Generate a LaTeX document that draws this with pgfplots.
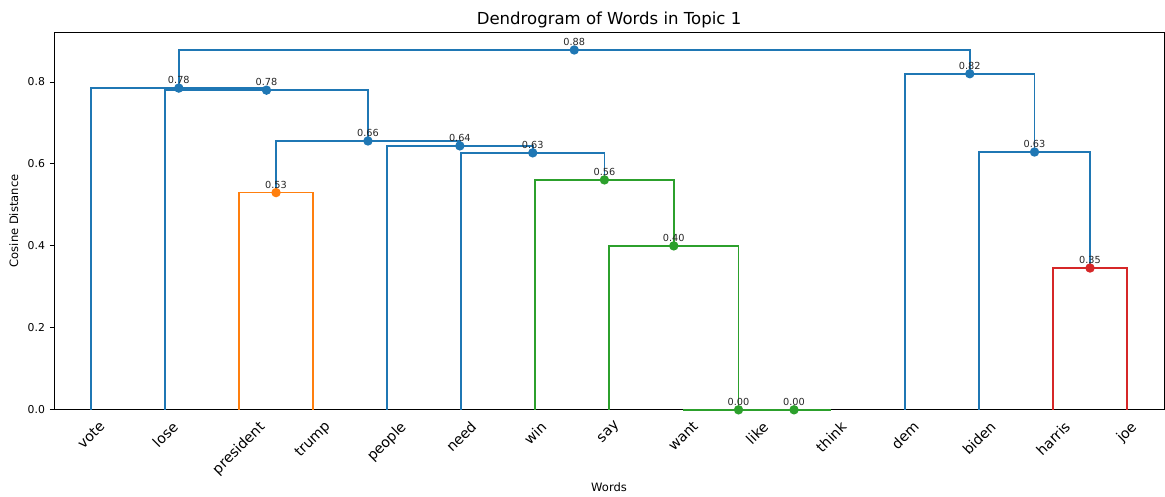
\documentclass[border=0pt]{standalone}
\usepackage{fontspec}
\setmainfont{DejaVu Sans}
\usepackage{pgfplots}
\pgfplotsset{compat=1.18}

\definecolor{cblue}{HTML}{1F77B4}
\definecolor{corange}{HTML}{FF7F0E}
\definecolor{cgreen}{HTML}{2CA02C}
\definecolor{cred}{HTML}{D62728}

\begin{document}
\begin{tikzpicture}
\begin{axis}[
  name=ax,
  scale only axis,
  width=799pt, height=272pt,
  xmin=0, xmax=150, ymin=0, ymax=0.922,
  axis line style={line width=0.6pt},
  xtick={5,15,...,145},
  xticklabels={\rotatebox{45}{vote},\rotatebox{45}{lose},\rotatebox{45}{president},\rotatebox{45}{trump},
    \rotatebox{45}{people},\rotatebox{45}{need},\rotatebox{45}{win},\rotatebox{45}{say},
    \rotatebox{45}{want},\rotatebox{45}{like},\rotatebox{45}{think},\rotatebox{45}{dem},
    \rotatebox{45}{biden},\rotatebox{45}{harris},\rotatebox{45}{joe}},
  xticklabel style={anchor=north, font=\fontsize{10.2}{12}\selectfont, yshift=-1pt},
  x tick style={draw=none},
  ytick={0,0.2,0.4,0.6,0.8},
  yticklabel style={font=\fontsize{7.8}{9}\selectfont,
    /pgf/number format/fixed, /pgf/number format/fixed zerofill, /pgf/number format/precision=1},
  /pgf/number format/assume math mode=true,
  tick align=outside,
  major tick length=3pt,
  y tick style={black, line width=0.6pt},
  xtick pos=bottom, ytick pos=left,
  title={Dendrogram of Words in Topic 1},
  title style={font=\fontsize{11.9}{13}\selectfont, yshift=-6.5pt},
  xlabel={Words}, ylabel={Cosine Distance},
  label style={font=\fontsize{8.3}{10}\selectfont},
  xlabel style={yshift=3pt},
  every axis plot/.append style={line width=1.1pt},
  clip=false,
]
% links: each as a U shape, x at leaf positions 5,15,...,145
\addplot[cgreen, no markers] coordinates {(95,0) (95,0) (105,0) (105,0)};
\addplot[cgreen, no markers] coordinates {(85,0) (85,0) (100,0) (100,0)};
\addplot[cgreen, no markers] coordinates {(75,0) (75,0.400) (92.5,0.400) (92.5,0)};
\addplot[cgreen, no markers] coordinates {(65,0) (65,0.561) (83.75,0.561) (83.75,0.400)};
\addplot[cblue, no markers] coordinates {(55,0) (55,0.627) (74.375,0.627) (74.375,0.561)};
\addplot[cblue, no markers] coordinates {(45,0) (45,0.644) (64.69,0.644) (64.69,0.627)};
\addplot[corange, no markers] coordinates {(25,0) (25,0.530) (35,0.530) (35,0)};
\addplot[cblue, no markers] coordinates {(30,0.530) (30,0.656) (54.84,0.656) (54.84,0.644)};
\addplot[cblue, no markers] coordinates {(15,0) (15,0.780) (42.42,0.780) (42.42,0.656)};
\addplot[cblue, no markers] coordinates {(5,0) (5,0.785) (28.71,0.785) (28.71,0.780)};
\addplot[cred, no markers] coordinates {(135,0) (135,0.346) (145,0.346) (145,0)};
\addplot[cblue, no markers] coordinates {(125,0) (125,0.629) (140,0.629) (140,0.346)};
\addplot[cblue, no markers] coordinates {(115,0) (115,0.820) (132.5,0.820) (132.5,0.629)};
\addplot[cblue, no markers] coordinates {(16.86,0.785) (16.86,0.878) (123.75,0.878) (123.75,0.820)};

% merge points with their distances
\pgfplotsset{dots/.style={only marks, mark=*, mark size=2.8pt,
  point meta=explicit symbolic, nodes near coords,
  every node near coord/.style={anchor=south, yshift=2.5pt, inner sep=0pt,
    text=black!85, font=\fontsize{7}{8}\selectfont}}}
\addplot[dots, cblue, mark options={fill=cblue, draw=cblue}] coordinates {
  (16.86,0.785) [0.78] (28.71,0.780) [0.78] (42.42,0.656) [0.66]
  (54.84,0.644) [0.64] (64.69,0.627) [0.63] (132.5,0.629) [0.63]
  (123.75,0.820) [0.82] (70.3,0.878) [0.88]};
\addplot[dots, corange, mark options={fill=corange, draw=corange}] coordinates {(30,0.530) [0.53]};
\addplot[dots, cgreen, mark options={fill=cgreen, draw=cgreen}] coordinates {
  (74.375,0.561) [0.56] (83.75,0.400) [0.40] (92.5,0) [0.00] (100,0) [0.00]};
\addplot[dots, cred, mark options={fill=cred, draw=cred}] coordinates {(140,0.346) [0.35]};
\end{axis}
\path ([xshift=-38.9pt, yshift=-61.2pt]ax.south west) rectangle ([xshift=0.7pt, yshift=23pt]ax.north east);
\end{tikzpicture}
\end{document}
